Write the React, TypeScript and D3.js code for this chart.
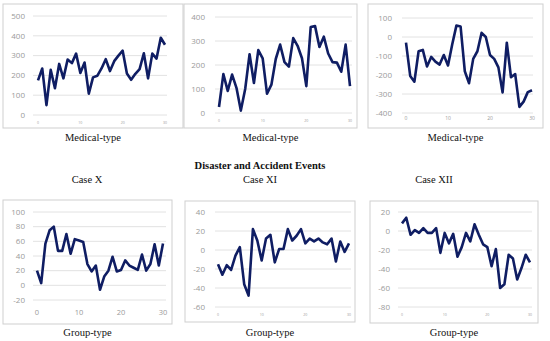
import * as d3 from "d3";

// day index 0..30 shared by all panels
const days = d3.range(0, 31);

const medicalX = [175, 235, 50, 228, 135, 258, 185, 280, 262, 310, 212, 265, 108, 190, 198, 235, 282, 222, 272, 300, 325, 210, 178, 208, 232, 312, 185, 310, 285, 390, 355];
const medicalXI = [25, 162, 92, 160, 105, 10, 100, 245, 125, 262, 228, 80, 118, 225, 285, 212, 193, 312, 280, 228, 112, 358, 362, 275, 318, 248, 212, 210, 172, 285, 112];
const medicalXII = [-30, -205, -235, -75, -68, -155, -105, -130, -145, -95, -150, -40, 60, 55, -180, -243, -115, -75, 22, 0, -95, -115, -160, -292, -30, -212, -195, -368, -340, -290, -280];

const groupX = [20, 3, 57, 75, 80, 47, 47, 70, 43, 63, 61, 59, 29, 19, 27, -6, 12, 20, 39, 19, 21, 34, 27, 24, 21, 42, 20, 29, 56, 27, 57];
const groupXI = [-15, -26, -16, -21, -6, 3, -36, -48, 22, 10, -11, 12, 16, -13, 1, 1, 22, 10, 15, 22, 7, 12, 9, 12, 8, 6, 12, -12, 9, -2, 7];
const groupXII = [8, 14, -4, 1, -2, 3, -2, -2, 3, -23, -2, -13, -3, -27, -17, -2, -11, 7, -4, -14, -17, -37, -19, -60, -56, -25, -29, -51, -39, -25, -33];

const xTicks = [0, 10, 20, 30];
const caseLabels = ["Case X", "Case XI", "Case XII"];
const title = "Disaster and Accident Events";

const medicalTicks = [
  [0, 100, 200, 300, 400, 500],
  [0, 100, 200, 300, 400],
  [-400, -300, -200, -100, 0, 100],
];
const groupTicks = [
  [-20, 0, 20, 40, 60, 80, 100],
  [-60, -40, -20, 0, 20, 40],
  [-80, -60, -40, -20, 0, 20],
];

const LINE = "#0f1d63";
const GRID = "#dadada";
const TICK = "#9a9a9a";
const SERIF = "'Liberation Serif', 'DejaVu Serif', serif";
const SANS = "'Open Sans', 'Liberation Sans', sans-serif";

function Panel({ values, ticks, box, xr, yr, gx, labelX, xTickY, xTickSize, caption, captionY }) {
  const x = d3.scaleLinear().domain([0, 30]).range(xr);
  const y = d3.scaleLinear().domain([ticks[0], ticks[ticks.length - 1]]).range(yr);
  const line = d3.line<number>().x((d, i) => x(days[i])).y((d) => y(d));

  return (
    <g>
      <rect x={box[0]} y={box[1]} width={box[2] - box[0]} height={box[3] - box[1]} fill="#fff" stroke="#cfcfcf" strokeWidth={1} />
      {ticks.map((t) => (
        <g key={t}>
          <line x1={gx[0]} x2={gx[1]} y1={y(t)} y2={y(t)} stroke={GRID} strokeWidth={0.8} />
          <text x={labelX} y={y(t)} dy="0.35em" textAnchor="end" fontSize={8} fill={TICK} fontFamily={SANS}>{t}</text>
        </g>
      ))}
      {xTicks.map((t) => (
        <text key={t} x={x(t)} y={xTickY} textAnchor="middle" fontSize={xTickSize} fill={TICK} fontFamily={SANS}>{t}</text>
      ))}
      <path d={line(values)} fill="none" stroke={LINE} strokeWidth={2.6} strokeLinejoin="round" />
      <text x={(box[0] + box[2]) / 2} y={captionY} textAnchor="middle" fontSize={10.5} fill="#111" fontFamily={SERIF}>{caption}</text>
    </g>
  );
}

export default function App() {
  return (
    <svg width={550} height={341} style={{ position: "absolute", left: 0, top: 0, background: "#fff" }}>
      <Panel values={medicalX} ticks={medicalTicks[0]} box={[3, 4, 183, 128]} xr={[38, 165]} yr={[115, 16]} gx={[33, 167]} labelX={25} xTickY={124} xTickSize={3.5} caption="Medical-type" captionY={141} />
      <Panel values={medicalXI} ticks={medicalTicks[1]} box={[184, 4, 357, 128]} xr={[219, 350]} yr={[113, 17]} gx={[215, 352]} labelX={205} xTickY={122} xTickSize={3.5} caption="Medical-type" captionY={141} />
      <Panel values={medicalXII} ticks={medicalTicks[2]} box={[368, 4, 543, 128]} xr={[406, 532]} yr={[113, 18]} gx={[402, 533]} labelX={392} xTickY={120} xTickSize={5} caption="Medical-type" captionY={141} />

      <text x={260} y={169} textAnchor="middle" fontSize={10.5} fontWeight="bold" fill="#111" fontFamily={SERIF}>{title}</text>
      {caseLabels.map((c, i) => (
        <text key={c} x={[87, 260, 434][i]} y={183} textAnchor="middle" fontSize={10.5} fill="#111" fontFamily={SERIF}>{c}</text>
      ))}

      <Panel values={groupX} ticks={groupTicks[0]} box={[3, 200, 172, 324]} xr={[37, 163]} yr={[300, 212]} gx={[33, 166]} labelX={25} xTickY={315} xTickSize={7.5} caption="Group-type" captionY={336} />
      <Panel values={groupXI} ticks={groupTicks[1]} box={[185, 201, 355, 322]} xr={[218, 349]} yr={[307, 212]} gx={[215, 351]} labelX={205} xTickY={316} xTickSize={3.5} caption="Group-type" captionY={336} />
      <Panel values={groupXII} ticks={groupTicks[2]} box={[370, 201, 538, 323]} xr={[402, 530]} yr={[307, 212]} gx={[398, 532]} labelX={390} xTickY={316} xTickSize={3.5} caption="Group-type" captionY={336} />
    </svg>
  );
}
